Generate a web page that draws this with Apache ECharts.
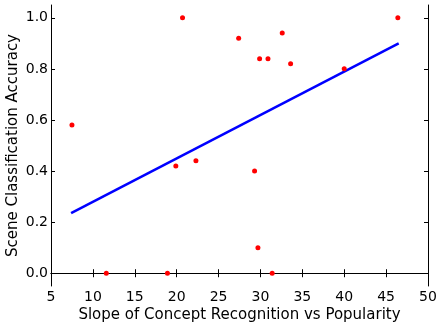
<!DOCTYPE html>
<html>
<head>
<meta charset="utf-8">
<script src="https://cdn.jsdelivr.net/npm/echarts@6/dist/echarts.min.js"></script>
<style>
  html, body {margin: 0; padding: 0; background: #fff;}
  #chart {width: 439px; height: 331px;}
</style>
</head>
<body>
<div id="chart"></div>
<script>
// scatter points: [slope, accuracy]
var slopes = [7.5, 20.7, 27.4, 29.9, 30.9, 32.6, 33.6, 40.0, 46.4, 19.9, 22.3, 29.3, 29.7, 11.6, 18.9, 31.4];
var accuracy = [0.58, 1.0, 0.92, 0.84, 0.84, 0.94, 0.82, 0.80, 1.0, 0.42, 0.44, 0.40, 0.10, 0.0, 0.0, 0.0];
// fitted line end points
var fitX = [7.4, 46.5];
var fitY = [0.235, 0.9];
var yTicks = [0.0, 0.2, 0.4, 0.6, 0.8, 1.0];

var font = 'DejaVu Sans';
var axisLine = {show: true, lineStyle: {color: '#000', width: 1}};
var tick = {show: true, inside: true, length: 4, lineStyle: {color: '#000'}};

var myChart = echarts.init(document.getElementById('chart'));
myChart.setOption({
  animation: false,
  grid: {left: 51, right: 11, top: 5, bottom: 45, containLabel: false, outerBoundsMode: 'none'},
  xAxis: [
    {
      type: 'value', min: 5, max: 50, interval: 5, position: 'bottom',
      name: 'Slope of Concept Recognition vs Popularity',
      nameLocation: 'middle', nameGap: 22, nameMoveOverlap: false,
      nameTextStyle: {fontFamily: font, fontSize: 15, color: '#000'},
      axisLine: axisLine, axisTick: tick, splitLine: {show: false},
      axisLabel: {fontFamily: font, fontSize: 14, color: '#000', margin: 4}
    },
    {
      type: 'value', min: 5, max: 50, interval: 5, position: 'top',
      axisLine: axisLine, axisTick: tick, splitLine: {show: false},
      axisLabel: {show: false}
    }
  ],
  yAxis: [
    {
      type: 'value', min: -0.05, max: 1.05, position: 'left',
      name: 'Scene Classification Accuracy',
      nameLocation: 'middle', nameGap: 30, nameMoveOverlap: false,
      nameTextStyle: {fontFamily: font, fontSize: 15, color: '#000'},
      axisLine: axisLine,
      axisTick: Object.assign({customValues: yTicks}, tick),
      splitLine: {show: false},
      axisLabel: {
        customValues: yTicks, fontFamily: font, fontSize: 14, color: '#000', margin: 3,
        formatter: function (v) { return v.toFixed(1); }
      }
    },
    {
      type: 'value', min: -0.05, max: 1.05, position: 'right',
      axisLine: axisLine,
      axisTick: Object.assign({customValues: yTicks}, tick),
      splitLine: {show: false},
      axisLabel: {show: false, customValues: yTicks}
    }
  ],
  series: [
    {
      type: 'line',
      data: fitX.map(function (x, i) { return [x, fitY[i]]; }),
      symbol: 'none',
      lineStyle: {color: '#0000ff', width: 2.5},
      z: 2
    },
    {
      type: 'scatter',
      data: slopes.map(function (x, i) { return [x, accuracy[i]]; }),
      symbol: 'circle',
      symbolSize: 5,
      itemStyle: {color: '#ff0000', opacity: 1},
      z: 3
    }
  ]
});
</script>
</body>
</html>
